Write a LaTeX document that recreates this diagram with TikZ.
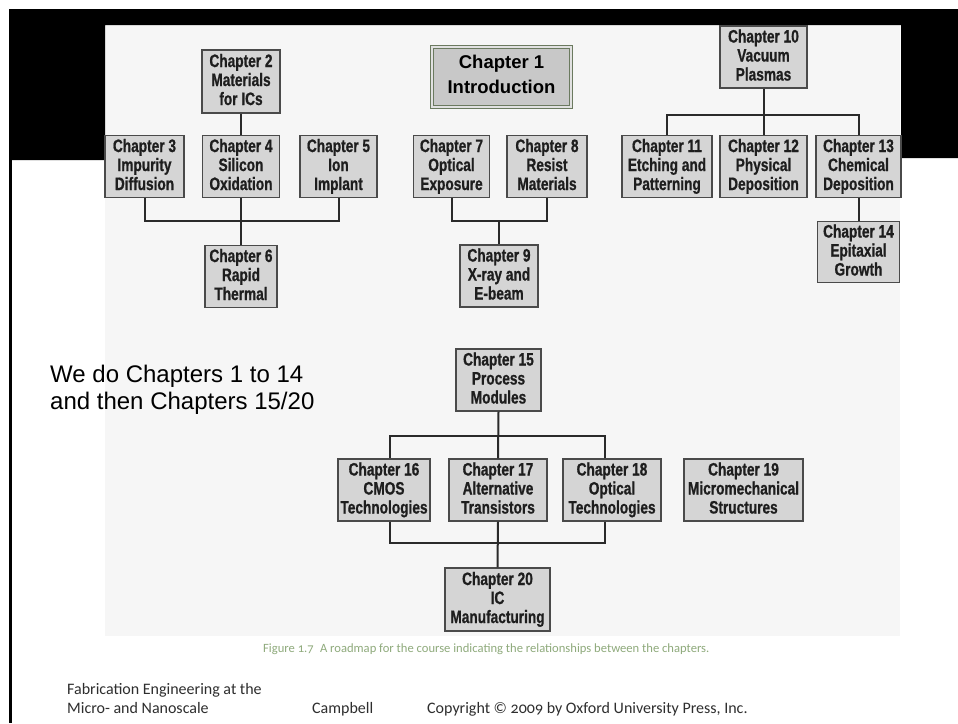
\documentclass[tikz,border=0pt]{standalone}
\usepackage{fontspec}
\setmainfont{Liberation Sans}
\newfontfamily\boxfont{Liberation Sans}[UprightFont={* Bold}, FakeStretch=0.76, FakeBold=0.8]
\newfontfamily\capfont{Carlito}[Numbers=OldStyle]
\definecolor{boxfill}{HTML}{D5D5D5}
\definecolor{boxline}{HTML}{4A4A4A}
\definecolor{boxtext}{HTML}{1E1E1E}
\definecolor{linec}{HTML}{2A2A2A}
\definecolor{figbg}{HTML}{F6F6F6}
\definecolor{introline}{HTML}{6B7A5F}
\definecolor{introfill}{HTML}{C8C8C8}
\definecolor{capgreen}{HTML}{8FAA7C}
\definecolor{foottext}{HTML}{2E2E2E}
\tikzset{
  chbox/.style={draw=boxline, fill=boxfill, line width=1.4pt, inner sep=0pt, align=center,
    text=boxtext, font=\boxfont\fontsize{18}{19}\selectfont,
    execute at begin node={\rule{0pt}{20pt}},
    execute at end node={\rule[-4pt]{0pt}{4pt}}},
  introbox/.style={draw=introline, double=introfill!55!white, double distance=1.3pt, line width=1.8pt,
    fill=introfill, inner sep=0pt, align=center, text=black,
    font=\bfseries\fontsize{18.5}{25}\selectfont,
    execute at begin node={\rule{0pt}{15pt}},
    execute at end node={\rule[-5pt]{0pt}{5pt}}},
  conn/.style={draw=linec, line width=2pt},
  note/.style={anchor=base west, inner sep=0pt, font=\fontsize{24}{28}\selectfont, text=black},
  caption/.style={anchor=base west, inner sep=0pt, font=\capfont\fontsize{12.6}{14}\selectfont, text=capgreen},
  foot/.style={anchor=base west, inner sep=0pt, font=\capfont\fontsize{16}{19}\selectfont, text=foottext}
}
\begin{document}
\begin{tikzpicture}[x=1pt,y=-1pt]
\useasboundingbox (0,0) rectangle (958,723);
% page background and frame
\fill[white] (0,0) rectangle (958,723);
\fill[figbg] (105,25) rectangle (900,636);
\fill[black] (9,9) -- (958,9) -- (958,158) -- (901,158) -- (901,25) -- (105,25) -- (105,160) -- (9,160) -- cycle;
\fill[black] (9,160) rectangle (12,723);

% boxes
\node[introbox, minimum width=139pt, minimum height=60pt] (c1) at (501.5,77) {Chapter 1\\Introduction};
\node[chbox, minimum width=78pt, minimum height=63pt] (c2) at (241,81.5) {Chapter 2\\Materials\\for ICs};
\node[chbox, minimum width=79pt, minimum height=62pt] (c3) at (144.5,166.5) {Chapter 3\\Impurity\\Diffusion};
\node[chbox, minimum width=77pt, minimum height=62pt] (c4) at (241,166.5) {Chapter 4\\Silicon\\Oxidation};
\node[chbox, minimum width=77pt, minimum height=62pt] (c5) at (338.5,166.5) {Chapter 5\\Ion\\Implant};
\node[chbox, minimum width=72pt, minimum height=62pt] (c6) at (241,276.5) {Chapter 6\\Rapid\\Thermal};
\node[chbox, minimum width=76pt, minimum height=62pt] (c7) at (451.5,166.5) {Chapter 7\\Optical\\Exposure};
\node[chbox, minimum width=80pt, minimum height=62pt] (c8) at (547,166.5) {Chapter 8\\Resist\\Materials};
\node[chbox, minimum width=78pt, minimum height=62pt] (c9) at (499,276) {Chapter 9\\X-ray and\\E-beam};
\node[chbox, minimum width=87pt, minimum height=62pt] (c10) at (763.5,57) {Chapter 10\\Vacuum\\Plasmas};
\node[chbox, minimum width=90pt, minimum height=62pt] (c11) at (667,166.5) {Chapter 11\\Etching and\\Patterning};
\node[chbox, minimum width=87pt, minimum height=62pt] (c12) at (763.5,166.5) {Chapter 12\\Physical\\Deposition};
\node[chbox, minimum width=85pt, minimum height=62pt] (c13) at (858.5,166.5) {Chapter 13\\Chemical\\Deposition};
\node[chbox, minimum width=82pt, minimum height=61pt] (c14) at (858.5,252) {Chapter 14\\Epitaxial\\Growth};
\node[chbox, minimum width=85pt, minimum height=62pt] (c15) at (498.5,380) {Chapter 15\\Process\\Modules};
\node[chbox, minimum width=92pt, minimum height=62pt] (c16) at (384,490) {Chapter 16\\CMOS\\Technologies};
\node[chbox, minimum width=98pt, minimum height=62pt] (c17) at (498,490) {Chapter 17\\Alternative\\Transistors};
\node[chbox, minimum width=98pt, minimum height=62pt] (c18) at (612,490) {Chapter 18\\Optical\\Technologies};
\node[chbox, minimum width=119pt, minimum height=62pt] (c19) at (743.5,490) {Chapter 19\\Micromechanical\\Structures};
\node[chbox, minimum width=105pt, minimum height=63pt] (c20) at (497.5,599.5) {Chapter 20\\IC\\Manufacturing};

% bus junctions
\coordinate (b1) at (241,221);
\coordinate (b2) at (499,221);
\coordinate (b3) at (763.5,115);
\coordinate (b4) at (498.5,436);
\coordinate (b5) at (497.5,543);

% connectors
\draw[conn] (c2.south) -- (c4.north);
\draw[conn] (c3.south) |- (b1);
\draw[conn] (c5.south) |- (b1);
\draw[conn] (c4.south) -- (c6.north);
\draw[conn] (c7.south) |- (b2);
\draw[conn] (c8.south) |- (b2);
\draw[conn] (b2) -- (c9.north);
\draw[conn] (c10.south) -- (c12.north);
\draw[conn] (c11.north) |- (b3);
\draw[conn] (c13.north) |- (b3);
\draw[conn] (c13.south) -- (c14.north);
\draw[conn] (c15.south) -- (c17.north);
\draw[conn] ([xshift=6pt]c16.north) |- (b4);
\draw[conn] ([xshift=-7pt]c18.north) |- (b4);
\draw[conn] ([xshift=6pt]c16.south) |- (b5);
\draw[conn] ([xshift=-7pt]c18.south) |- (b5);
\draw[conn] (c17.south) -- (c20.north);

% texts
\node[note] (n1) at (50,382) {We do Chapters 1 to 14};
\node[note] (n2) at (50,409) {and then Chapters 15/20};
\node[caption] (cap) at (263,652) {Figure 1.7\enspace A roadmap for the course indicating the relationships between the chapters.};
\node[foot] (f1) at (67,694) {Fabrication Engineering at the};
\node[foot] (f2) at (67,713) {Micro- and Nanoscale};
\node[foot] (f3) at (312,713) {Campbell};
\node[foot] (f4) at (427,713) {Copyright © 2009 by Oxford University Press, Inc.};
\end{tikzpicture}
\end{document}
